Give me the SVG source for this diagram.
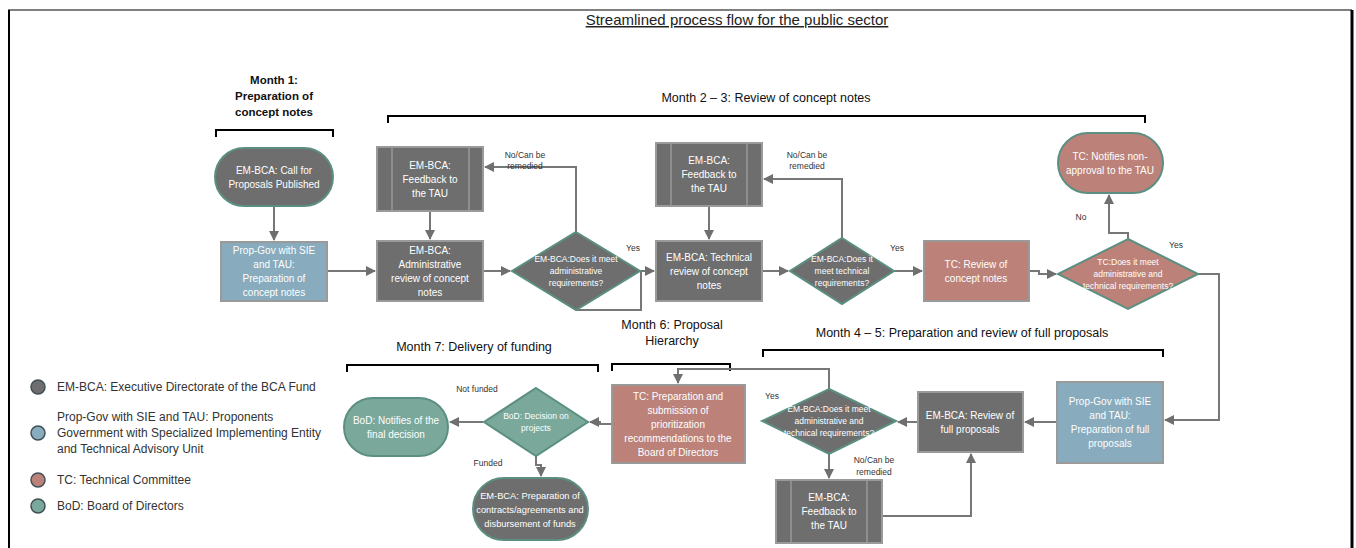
<svg xmlns="http://www.w3.org/2000/svg" width="1356" height="548" viewBox="0 0 1356 548">
<defs>
<marker id="ah" markerWidth="10" markerHeight="10" refX="9" refY="5" orient="auto" markerUnits="userSpaceOnUse">
<path d="M0,0 L10,5 L0,10 Z" fill="#6f6f6f"/>
</marker>
<style>
.gray{fill:#6e6e6e}
.blue{fill:#88abbd}
.sal{fill:#bc8279}
.teal{fill:#7aa89b}
.rs{stroke:#9a9a9a;stroke-width:2}
.ts{stroke:#5b8f82;stroke-width:2}
.nt{font-family:"Liberation Sans",Arial,sans-serif;font-size:10px;fill:#ffffff;text-anchor:middle}
.nts{font-family:"Liberation Sans",Arial,sans-serif;font-size:9.3px;fill:#ffffff;text-anchor:middle}
.dt{font-family:"Liberation Sans",Arial,sans-serif;font-size:8.5px;fill:#ffffff;text-anchor:middle}
.lbl{font-family:"Liberation Sans",Arial,sans-serif;font-size:8.5px;fill:#333;text-anchor:middle}
.hdr{font-family:"Liberation Sans",Arial,sans-serif;font-size:12.5px;fill:#111;text-anchor:middle}
.hdrb{font-family:"Liberation Sans",Arial,sans-serif;font-size:11.5px;font-weight:bold;fill:#111;text-anchor:middle}
.leg{font-family:"Liberation Sans",Arial,sans-serif;font-size:12px;fill:#333}
.con{fill:none;stroke:#777;stroke-width:2}
.br{fill:none;stroke:#000;stroke-width:2}
.inner{stroke:#9a9a9a;stroke-width:1.5}
</style>
</defs>

<g id="frame">
<line x1="8" y1="10" x2="1352" y2="10" stroke="#000" stroke-width="1"/>
<line x1="9" y1="10" x2="9" y2="548" stroke="#000" stroke-width="2"/>
<line x1="1352" y1="10" x2="1352" y2="548" stroke="#000" stroke-width="3"/>
</g>

<g id="title">
<text x="737" y="25" font-family="'Liberation Sans',Arial,sans-serif" font-size="15" fill="#222" text-anchor="middle" text-decoration="underline">Streamlined process flow for the public sector</text>
</g>

<g id="headers">
<text class="hdrb" x="274" y="84">Month 1:</text>
<text class="hdrb" x="274" y="100">Preparation of</text>
<text class="hdrb" x="274" y="116">concept notes</text>
<path class="br" d="M216,137 V130 H333 V137"/>
<text class="hdr" x="766" y="102">Month 2 – 3: Review of concept notes</text>
<path class="br" d="M388,123 V116 H1145 V123"/>
<text class="hdr" x="962" y="337">Month 4 – 5: Preparation and review of full proposals</text>
<path class="br" d="M763,357 V350 H1163 V357"/>
<text class="hdr" x="672" y="329">Month 6: Proposal</text>
<text class="hdr" x="672" y="345">Hierarchy</text>
<path class="br" d="M612,371 V364 H730 V371"/>
<text class="hdr" x="474" y="351">Month 7: Delivery of funding</text>
<path class="br" d="M347,372 V365 H598 V372"/>
</g>

<g id="connectors">
<path class="con" d="M274,206 V240" marker-end="url(#ah)"/>
<path class="con" d="M327,271 H375" marker-end="url(#ah)"/>
<path class="con" d="M430,211 V239" marker-end="url(#ah)"/>
<path class="con" d="M483,271 H510" marker-end="url(#ah)"/>
<path class="con" d="M576,232 V167 H485" marker-end="url(#ah)"/>
<path class="con" d="M640,271 H654" marker-end="url(#ah)"/>
<path class="con" d="M576,310 H641 V271"/>
<path class="con" d="M709,206 V239" marker-end="url(#ah)"/>
<path class="con" d="M762,271 H788" marker-end="url(#ah)"/>
<path class="con" d="M842,238 V179 H764" marker-end="url(#ah)"/>
<path class="con" d="M894,271 H922" marker-end="url(#ah)"/>
<path class="con" d="M1029,271 H1039 V274 H1056" marker-end="url(#ah)"/>
<path class="con" d="M1128,239 V233 H1109 V195" marker-end="url(#ah)"/>
<path class="con" d="M1198,274 H1219 V420 H1165" marker-end="url(#ah)"/>
<path class="con" d="M1057,422 H1025" marker-end="url(#ah)"/>
<path class="con" d="M918,422 H898" marker-end="url(#ah)"/>
<path class="con" d="M829,389 V369 H678 V383" marker-end="url(#ah)"/>
<path class="con" d="M829,454 V478" marker-end="url(#ah)"/>
<path class="con" d="M882,516 H971 V454" marker-end="url(#ah)"/>
<path class="con" d="M612,424 H600 V422 H590" marker-end="url(#ah)"/>
<path class="con" d="M483,422 H450" marker-end="url(#ah)"/>
<path class="con" d="M536,456 V465 H541 V476" marker-end="url(#ah)"/>
<text class="lbl" x="525" y="158">No/Can be</text>
<text class="lbl" x="525" y="169">remedied</text>
<text class="lbl" x="807" y="158">No/Can be</text>
<text class="lbl" x="807" y="169">remedied</text>
<text class="lbl" x="874" y="463">No/Can be</text>
<text class="lbl" x="874" y="475">remedied</text>
<text class="lbl" x="633" y="251">Yes</text>
<text class="lbl" x="897" y="251">Yes</text>
<text class="lbl" x="1176" y="248">Yes</text>
<text class="lbl" x="772" y="399">Yes</text>
<text class="lbl" x="1081" y="220">No</text>
<text class="lbl" x="477" y="392">Not funded</text>
<text class="lbl" x="488" y="466">Funded</text>
</g>

<g id="n-call">
<rect class="gray ts" x="215" y="148" width="118" height="58" rx="29"/>
<text class="nt" x="274" y="174">EM-BCA: Call for</text>
<text class="nt" x="274" y="188">Proposals Published</text>
</g>
<g id="n-propgov1">
<rect class="blue rs" x="221" y="242" width="106" height="59"/>
<text class="nt" x="274" y="254">Prop-Gov with SIE</text>
<text class="nt" x="274" y="268">and TAU:</text>
<text class="nt" x="274" y="282">Preparation of</text>
<text class="nt" x="274" y="296">concept notes</text>
</g>
<g id="n-feedback1">
<rect class="gray rs" x="377" y="147" width="106" height="64"/>
<line class="inner" x1="392" y1="147" x2="392" y2="211"/>
<line class="inner" x1="469" y1="147" x2="469" y2="211"/>
<text class="nt" x="430" y="169">EM-BCA:</text>
<text class="nt" x="430" y="183">Feedback to</text>
<text class="nt" x="430" y="197">the TAU</text>
</g>
<g id="n-adminreview">
<rect class="gray rs" x="377" y="241" width="106" height="60"/>
<text class="nt" x="430" y="254">EM-BCA:</text>
<text class="nt" x="430" y="268">Administrative</text>
<text class="nt" x="430" y="282">review of concept</text>
<text class="nt" x="430" y="296">notes</text>
</g>
<g id="n-dec-admin">
<polygon class="gray ts" points="576,232 640,271 576,310 512,271"/>
<text class="dt" x="576" y="262">EM-BCA:Does it meet</text>
<text class="dt" x="576" y="274">administrative</text>
<text class="dt" x="576" y="286">requirements?</text>
</g>
<g id="n-feedback2">
<rect class="gray rs" x="656" y="143" width="106" height="63"/>
<line class="inner" x1="671" y1="143" x2="671" y2="206"/>
<line class="inner" x1="747" y1="143" x2="747" y2="206"/>
<text class="nt" x="709" y="164">EM-BCA:</text>
<text class="nt" x="709" y="178">Feedback to</text>
<text class="nt" x="709" y="192">the TAU</text>
</g>
<g id="n-techreview">
<rect class="gray rs" x="656" y="241" width="106" height="60"/>
<text class="nt" x="709" y="261">EM-BCA: Technical</text>
<text class="nt" x="709" y="275">review of concept</text>
<text class="nt" x="709" y="289">notes</text>
</g>
<g id="n-dec-tech">
<polygon class="gray ts" points="842,238 894,271 842,304 790,271"/>
<text class="dt" x="842" y="262">EM-BCA:Does it</text>
<text class="dt" x="842" y="274">meet technical</text>
<text class="dt" x="842" y="286">requirements?</text>
</g>
<g id="n-tcreview">
<rect class="sal rs" x="924" y="241" width="105" height="60"/>
<text class="nt" x="976" y="268">TC: Review of</text>
<text class="nt" x="976" y="282">concept notes</text>
</g>
<g id="n-dec-tc">
<polygon class="sal ts" points="1128,239 1198,274 1128,309 1058,274"/>
<text class="dt" x="1128" y="265">TC:Does it meet</text>
<text class="dt" x="1128" y="277">administrative and</text>
<text class="dt" x="1128" y="289">technical requirements?</text>
</g>
<g id="n-nonapproval">
<rect class="sal ts" x="1058" y="133" width="105" height="60" rx="30"/>
<text class="nt" x="1110" y="160">TC: Notifies non-</text>
<text class="nt" x="1110" y="174">approval to the TAU</text>
</g>
<g id="n-propgov2">
<rect class="blue rs" x="1057" y="382" width="106" height="81"/>
<text class="nt" x="1110" y="405">Prop-Gov with SIE</text>
<text class="nt" x="1110" y="419">and TAU:</text>
<text class="nt" x="1110" y="433">Preparation of full</text>
<text class="nt" x="1110" y="447">proposals</text>
</g>
<g id="n-fullreview">
<rect class="gray rs" x="918" y="392" width="105" height="60"/>
<text class="nt" x="970" y="419">EM-BCA: Review of</text>
<text class="nt" x="970" y="433">full proposals</text>
</g>
<g id="n-dec-full">
<polygon class="gray ts" points="829,389 896,421 829,454 762,421"/>
<text class="dt" x="829" y="412">EM-BCA:Does it meet</text>
<text class="dt" x="829" y="424">administrative and</text>
<text class="dt" x="829" y="436">technical requirements?</text>
</g>
<g id="n-feedback3">
<rect class="gray rs" x="776" y="480" width="106" height="63"/>
<line class="inner" x1="791" y1="480" x2="791" y2="543"/>
<line class="inner" x1="867" y1="480" x2="867" y2="543"/>
<text class="nt" x="829" y="501">EM-BCA:</text>
<text class="nt" x="829" y="515">Feedback to</text>
<text class="nt" x="829" y="529">the TAU</text>
</g>
<g id="n-tcprep">
<rect class="sal rs" x="612" y="385" width="133" height="78"/>
<text class="nt" x="678" y="400">TC: Preparation and</text>
<text class="nt" x="678" y="414">submission of</text>
<text class="nt" x="678" y="428">prioritization</text>
<text class="nt" x="678" y="442">recommendations to the</text>
<text class="nt" x="678" y="456">Board of Directors</text>
</g>
<g id="n-dec-bod">
<polygon class="teal ts" points="536,388 588,422 536,456 484,422"/>
<text class="dt" x="536" y="419">BoD: Decision on</text>
<text class="dt" x="536" y="431">projects</text>
</g>
<g id="n-bodnotify">
<rect class="teal ts" x="344" y="398" width="104" height="58" rx="29"/>
<text class="nt" x="396" y="424">BoD: Notifies of the</text>
<text class="nt" x="396" y="438">final decision</text>
</g>
<g id="n-contracts">
<rect class="gray ts" x="473" y="478" width="115" height="62" rx="31"/>
<text class="nts" x="530" y="499">EM-BCA: Preparation of</text>
<text class="nts" x="530" y="513">contracts/agreements and</text>
<text class="nts" x="530" y="527">disbursement of funds</text>
</g>

<g id="legend">
<circle cx="38" cy="387" r="7" fill="#6e6e6e" stroke="#3f5055" stroke-width="1.5"/>
<text class="leg" x="57" y="391">EM-BCA: Executive Directorate of the BCA Fund</text>
<circle cx="38" cy="433" r="7" fill="#88abbd" stroke="#3f5055" stroke-width="1.5"/>
<text class="leg" x="57" y="421">Prop-Gov with SIE and TAU: Proponents</text>
<text class="leg" x="57" y="437">Government with Specialized Implementing Entity</text>
<text class="leg" x="57" y="453">and Technical Advisory Unit</text>
<circle cx="38" cy="480" r="7" fill="#bc8279" stroke="#3f5055" stroke-width="1.5"/>
<text class="leg" x="57" y="484">TC: Technical Committee</text>
<circle cx="38" cy="506" r="7" fill="#7aa89b" stroke="#3f5055" stroke-width="1.5"/>
<text class="leg" x="57" y="510">BoD: Board of Directors</text>
</g>
</svg>
